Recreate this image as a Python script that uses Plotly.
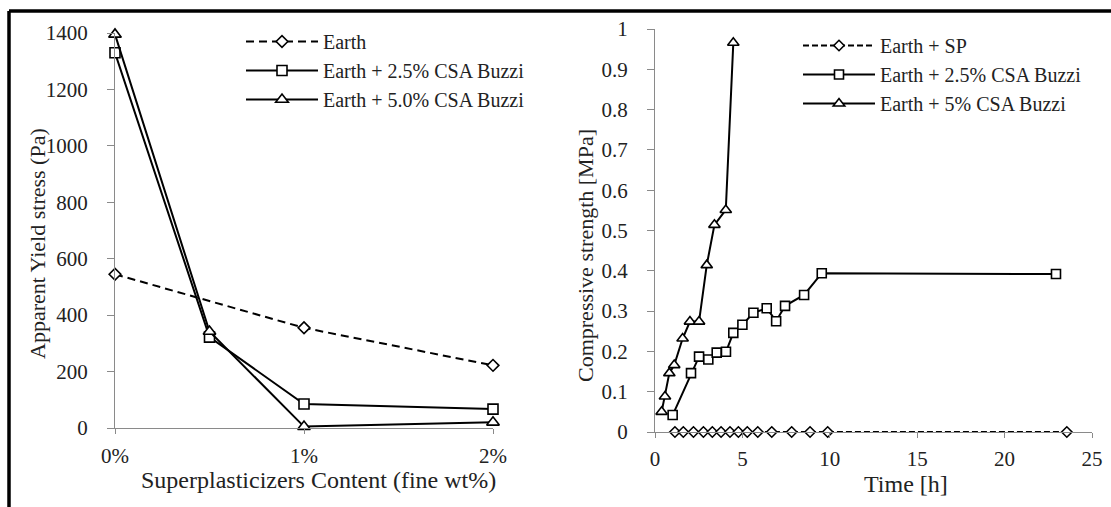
import plotly.graph_objects as go

# ---------------- data ----------------
# Left chart: apparent yield stress vs superplasticizer content (%)
sp_content = [0, 0.5, 1, 2]
earth_content = [0, 1, 2]
earth_yield = [545, 355, 222]
csa25_yield = [1330, 322, 85, 67]
csa50_yield = [1395, 342, 5, 20]
left_ticks = [0, 1, 2]
left_ticktext = ["0%", "1%", "2%"]

# Right chart: compressive strength vs time (h)
t_sp = [1.14, 1.62, 2.2, 2.77, 3.28, 3.78, 4.29, 4.77, 5.28, 5.88, 6.68, 7.82, 8.87, 9.88, 23.56]
s_sp = [0, 0, 0, 0, 0, 0, 0, 0, 0, 0, 0, 0, 0, 0, 0]
t_25 = [1.01, 2.06, 2.52, 3.05, 3.53, 4.06, 4.48, 5.0, 5.63, 6.39, 6.93, 7.44, 8.53, 9.54, 22.94]
s_25 = [0.042, 0.146, 0.187, 0.180, 0.197, 0.199, 0.246, 0.266, 0.296, 0.307, 0.275, 0.313, 0.340, 0.394, 0.392]
t_5 = [0.38, 0.57, 0.82, 1.1, 1.58, 2.0, 2.52, 2.96, 3.4, 4.05, 4.48]
s_5 = [0.050, 0.088, 0.146, 0.166, 0.232, 0.274, 0.274, 0.414, 0.514, 0.551, 0.966]

W, H = 1111, 507
FONT = "Liberation Serif"
TXT = "#222222"
AX = "#8a8a8a"

def px_x(p):
    return p / W

def px_y(p):
    return 1 - p / H

fig = go.Figure()

mk_line = dict(color="black", width=1.6)

fig.add_trace(go.Scatter(
    x=earth_content, y=earth_yield, name="Earth", mode="lines+markers",
    line=dict(color="black", width=2, dash="8px,5px"),
    marker=dict(symbol="diamond", size=9, color="white", line=mk_line),
    xaxis="x", yaxis="y", legend="legend", cliponaxis=False))
fig.add_trace(go.Scatter(
    x=sp_content, y=csa25_yield, name="Earth + 2.5% CSA Buzzi", mode="lines+markers",
    line=dict(color="black", width=2),
    marker=dict(symbol="square", size=10, color="white", line=mk_line),
    xaxis="x", yaxis="y", legend="legend", cliponaxis=False))
fig.add_trace(go.Scatter(
    x=sp_content, y=csa50_yield, name="Earth + 5.0% CSA Buzzi", mode="lines+markers",
    line=dict(color="black", width=2),
    marker=dict(symbol="triangle-up", size=11, color="white", line=mk_line),
    xaxis="x", yaxis="y", legend="legend", cliponaxis=False))

fig.add_trace(go.Scatter(
    x=t_sp, y=s_sp, name="Earth + SP", mode="lines+markers",
    line=dict(color="black", width=2, dash="6px,3px"),
    marker=dict(symbol="diamond", size=8, color="white", line=mk_line),
    xaxis="x2", yaxis="y2", legend="legend2", cliponaxis=False))
fig.add_trace(go.Scatter(
    x=t_25, y=s_25, name="Earth + 2.5% CSA Buzzi", mode="lines+markers",
    line=dict(color="black", width=2),
    marker=dict(symbol="square", size=9, color="white", line=mk_line),
    xaxis="x2", yaxis="y2", legend="legend2", cliponaxis=False))
fig.add_trace(go.Scatter(
    x=t_5, y=s_5, name="Earth + 5% CSA Buzzi", mode="lines+markers",
    line=dict(color="black", width=2),
    marker=dict(symbol="triangle-up", size=10, color="white", line=mk_line),
    xaxis="x2", yaxis="y2", legend="legend2", cliponaxis=False))

axis_common = dict(showgrid=False, zeroline=False, showline=True, linecolor=AX, linewidth=1.3,
                   ticks="outside", tickcolor=AX, tickwidth=1.3, automargin=False,
                   tickfont=dict(family=FONT, size=21, color=TXT))

fig.update_layout(
    template="none",
    width=W, height=H, autosize=False,
    margin=dict(l=0, r=0, t=0, b=0, pad=0, autoexpand=False),
    paper_bgcolor="white", plot_bgcolor="white",
    showlegend=True,
    xaxis=dict(domain=[px_x(115), px_x(493)], range=[0, 2], tickvals=left_ticks,
               ticktext=left_ticktext, anchor="y", ticklen=5, ticklabelstandoff=4, **axis_common),
    yaxis=dict(domain=[px_y(428), px_y(33)], range=[0, 1400], dtick=200, anchor="x",
               ticklen=7, ticklabelstandoff=15, **axis_common),
    xaxis2=dict(domain=[px_x(655), px_x(1092)], range=[0, 25], dtick=5, anchor="y2",
                ticklen=5, ticklabelstandoff=3, **axis_common),
    yaxis2=dict(domain=[px_y(432), px_y(29)], range=[0, 1], dtick=0.1, anchor="x2",
                ticklen=7, ticklabelstandoff=15, tickformat="~g", **axis_common),
    legend=dict(x=px_x(241), y=px_y(22), xanchor="left", yanchor="top", itemwidth=72,
                font=dict(family=FONT, size=20, color=TXT), bgcolor="rgba(0,0,0,0)",
                tracegroupgap=0, itemclick=False),
    legend2=dict(x=px_x(798), y=px_y(26), xanchor="left", yanchor="top", itemwidth=72,
                 font=dict(family=FONT, size=20, color=TXT), bgcolor="rgba(0,0,0,0)",
                 tracegroupgap=0, itemclick=False),
    shapes=[
        dict(type="line", xref="paper", yref="paper", x0=px_x(9), x1=1, y0=px_y(11), y1=px_y(11),
             line=dict(color="black", width=3.5)),
        dict(type="line", xref="paper", yref="paper", x0=px_x(9), x1=px_x(9), y0=px_y(11), y1=0,
             line=dict(color="black", width=3.5)),
    ],
    annotations=[
        dict(text="Apparent Yield stress (Pa)", xref="paper", yref="paper", x=px_x(37), y=px_y(244),
             textangle=-90, showarrow=False, xanchor="center", yanchor="middle",
             font=dict(family=FONT, size=22, color=TXT)),
        dict(text="Superplasticizers Content (fine wt%)", xref="paper", yref="paper", x=px_x(318),
             y=px_y(480), showarrow=False, xanchor="center", yanchor="middle",
             font=dict(family=FONT, size=24, color=TXT)),
        dict(text="Compressive strength [MPa]", xref="paper", yref="paper", x=px_x(585), y=px_y(256),
             textangle=-90, showarrow=False, xanchor="center", yanchor="middle",
             font=dict(family=FONT, size=22, color=TXT)),
        dict(text="Time [h]", xref="paper", yref="paper", x=px_x(906), y=px_y(484),
             showarrow=False, xanchor="center", yanchor="middle",
             font=dict(family=FONT, size=24, color=TXT)),
    ],
)

fig.write_html("out.html", config={"responsive": False})
